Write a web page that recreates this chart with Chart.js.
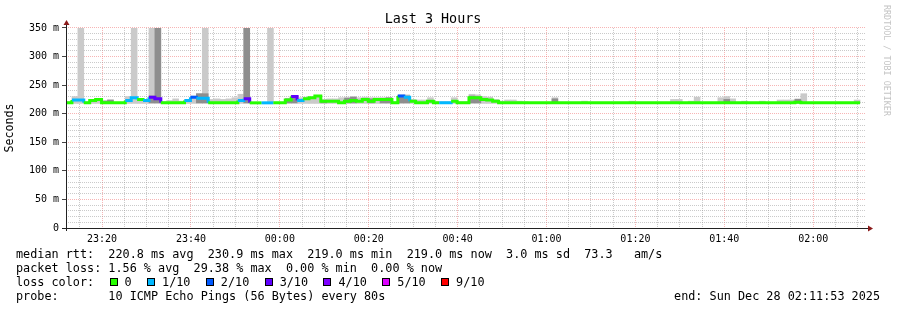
<!DOCTYPE html>
<html>
<head>
<meta charset="utf-8">
<script src="https://cdn.jsdelivr.net/npm/chart.js@4"></script>
<style>
  body { margin: 0; background: #fff; }
  #wrap { position: relative; width: 897px; height: 310px; font-family: 'DejaVu Sans Mono', monospace; color: #000; }
  #box { position: absolute; left: 0; top: 0; width: 897px; height: 310px; }
  .row { position: absolute; left: 16px; font-size: 11.8px; line-height: 14px; height: 14px; white-space: pre; }
  #lossRow { display: flex; align-items: center; }
  .sw { display: inline-block; width: 6px; height: 6px; border: 1px solid #000; margin-left: 15.4px; margin-right: 7px; }
  #end { left: auto; right: 17px; }
  #credit { position: absolute; left: 881px; top: 5px; width: 11px; font-size: 8.4px; line-height: 11px;
            writing-mode: vertical-rl; color: #c4c4c4; white-space: pre; }
</style>
</head>
<body>
<div id="wrap">
  <div id="box"><canvas id="chart"></canvas></div>
  <div class="row" style="top:247px">median rtt:  220.8 ms avg  230.9 ms max  219.0 ms min  219.0 ms now  3.0 ms sd  73.3   am/s</div>
  <div class="row" style="top:261px">packet loss: 1.56 % avg  29.38 % max  0.00 % min  0.00 % now</div>
  <div class="row" id="lossRow" style="top:275px"><span>loss color:</span></div>
  <div class="row" style="top:289px">probe:       10 ICMP Echo Pings (56 Bytes) every 80s</div>
  <div class="row" id="end" style="top:289px">end: Sun Dec 28 02:11:53 2025</div>
  <div id="credit">RRDTOOL / TOBI OETIKER</div>
</div>
<script>
// time window: 3 hours ending 02:11:53, one step every 80 s (minutes after midnight)
const endMinute = 2 * 60 + 11 + 53 / 60;
const spanMinutes = 180;
const stepMinutes = 80 / 60;
const startMinute = endMinute - spanMinutes;
const minRtt = 219.0;

// median rtt per step (ms)
const median = [
  219, 224, 224, 219, 223, 225, 219, 219, 219, 219,
  223, 228, 225, 223, 229, 226, 219, 219, 219, 219,
  223, 229, 227, 227, 219, 219, 219, 219, 219, 223,
  226, 219, 219, 219, 219, 219, 219, 224, 230, 223,
  226, 228, 231, 222, 222, 222, 219, 222, 223, 222,
  225, 222, 225, 225, 225, 219, 231, 229, 222, 219,
  219, 222, 219, 219, 219, 222, 219, 219, 228, 228,
  225, 224, 222, 219, 219, 219, 219, 219, 219, 219,
  219, 219, 219, 219, 219, 219, 219, 219, 219, 219,
  219, 219, 219, 219, 219, 219, 219, 219, 219, 219,
  219, 219, 219, 219, 219, 219, 219, 219, 219, 219,
  219, 219, 219, 219, 219, 219, 219, 219, 219, 219,
  219, 219, 219, 220, 219, 219, 219, 219, 219, 219,
  219, 219, 219, 219, null
];

// lost pings out of 10 per step
const loss = [
  0, 1, 1, 0, 0, 0, 0, 0, 0, 0,
  1, 1, 0, 1, 3, 3, 0, 0, 0, 0,
  1, 2, 1, 1, 0, 0, 0, 0, 0, 1,
  3, 0, 0, 1, 1, 0, 0, 0, 3, 1,
  0, 0, 0, 0, 0, 0, 0, 0, 0, 0,
  0, 0, 0, 0, 0, 0, 2, 1, 0, 0,
  0, 0, 0, 1, 1, 0, 0, 0, 0, 0,
  0, 0, 0, 0, 0, 0, 0, 0, 0, 0,
  0, 0, 0, 0, 0, 0, 0, 0, 0, 0,
  0, 0, 0, 0, 0, 0, 0, 0, 0, 0,
  0, 0, 0, 0, 0, 0, 0, 0, 0, 0,
  0, 0, 0, 0, 0, 0, 0, 0, 0, 0,
  0, 0, 0, 0, 0, 0, 0, 0, 0, 0,
  0, 0, 0, 0, 0
];

// slowest ping per step (ms) - outer smoke
const smokeHi = [
  221, 230, 380, 221, 224, 226, 223, 224, 220, 220,
  230, 380, 226, 225, 380, 380, 221, 223, 226, 222,
  225, 231, 235, 380, 225, 226, 225, 226, 228, 234,
  380, 220, 220, 220, 380, 220, 220, 227, 232, 228,
  229, 229, 232, 224, 226, 226, 228, 229, 230, 228,
  229, 228, 228, 228, 228, 221, 233, 233, 225, 224,
  224, 228, 221, 221, 221, 228, 221, 221, 234, 233,
  230, 229, 225, 222, 224, 224, 222, 221, 220, 220,
  220, 220, 228, 220, 220, 220, 220, 222, 220, 220,
  220, 220, 220, 220, 220, 222, 220, 220, 220, 220,
  220, 220, 225, 225, 220, 222, 229, 220, 220, 220,
  228, 230, 226, 220, 222, 220, 220, 222, 220, 220,
  224, 224, 224, 226, 235, 220, 220, 220, 220, 220,
  220, 220, 220, 224, null
];

// several slow pings per step (ms) - inner, darker smoke
const smokeDark = [
  null, null, null, null, null, null, 222, 224, null, null,
  null, null, null, null, 231, 380, null, null, null, null,
  null, null, 235, 235, null, null, null, null, null, null,
  380, null, null, null, null, null, null, 226, 232, null,
  null, null, null, 224, null, null, null, 227, 229, null,
  null, 226, null, 227, 228, null, 232, 231, null, null,
  null, null, null, null, null, null, null, null, 231, 230,
  null, null, null, null, null, null, null, null, null, null,
  null, null, 226, null, null, null, null, null, null, null,
  null, null, null, null, null, null, null, null, null, null,
  null, null, null, null, null, null, null, null, null, null,
  null, 225, null, null, null, null, null, null, null, null,
  null, null, null, 225, null, null, null, null, null, null,
  null, null, null, null, null
];

const lossLevels = [0, 1, 2, 3, 4, 5, 9];
const lossLabels = ['0', '1/10', '2/10', '3/10', '4/10', '5/10', '9/10'];
const lossColors = ['#26ff00', '#00b8ff', '#0059ff', '#5e00ff', '#7e00ff', '#dd00ff', '#ff0000'];

const majorGrid = 'rgba(240, 120, 120, 0.55)';
const minorGrid = 'rgba(150, 150, 150, 0.5)';

function lossColor(l) {
  let c = lossColors[0];
  lossLevels.forEach((lv, k) => { if (l >= lv) c = lossColors[k]; });
  return c;
}
function stepStart(i) { return startMinute + i * stepMinutes; }
function stepMid(i) { return stepStart(i) + stepMinutes / 2; }
function clock(m) {
  const t = ((Math.round(m) % 1440) + 1440) % 1440;
  return String(Math.floor(t / 60)).padStart(2, '0') + ':' + String(t % 60).padStart(2, '0');
}

// legend for loss colours
const lossRow = document.getElementById('lossRow');
lossLabels.forEach((lab, k) => {
  const sw = document.createElement('span');
  sw.className = 'sw';
  sw.style.background = lossColors[k];
  lossRow.appendChild(sw);
  const t = document.createElement('span');
  t.textContent = lab;
  lossRow.appendChild(t);
});

// median line as steps, coloured by loss
const lineData = [];
median.forEach((v, i) => {
  lineData.push({ x: stepStart(i), y: v, loss: loss[i] });
  if (v !== null && (i === median.length - 1 || median[i + 1] === null)) {
    lineData.push({ x: stepStart(i + 1), y: v, loss: loss[i] });
  }
});

const lightBars = smokeHi.map((h, i) => h === null ? null : { x: stepMid(i), y: [minRtt - 1, h] }).filter(d => d);
const darkBars = smokeDark.map((h, i) => h === null ? null : { x: stepMid(i), y: [minRtt, h] }).filter(d => d);

const xTicks = [];
for (let m = Math.ceil(startMinute / 5) * 5; m <= endMinute; m += 5) xTicks.push(m);
const yTicks = [];
for (let v = 0; v <= 350; v += 10) yTicks.push(v);

const axisArrows = {
  id: 'axisArrows',
  afterDraw(chart) {
    const { ctx, chartArea: a } = chart;
    ctx.save();
    ctx.strokeStyle = '#222';
    ctx.lineWidth = 1;
    ctx.beginPath();
    ctx.moveTo(a.left + 0.5, a.bottom + 3);
    ctx.lineTo(a.left + 0.5, a.top - 4);
    ctx.moveTo(a.left - 4, a.bottom + 0.5);
    ctx.lineTo(a.right + 2, a.bottom + 0.5);
    ctx.stroke();
    ctx.fillStyle = '#8b1a1a';
    ctx.beginPath();
    ctx.moveTo(a.left + 0.5, a.top - 8);
    ctx.lineTo(a.left - 2.5, a.top - 3);
    ctx.lineTo(a.left + 3.5, a.top - 3);
    ctx.fill();
    ctx.beginPath();
    ctx.moveTo(a.right + 7, a.bottom + 0.5);
    ctx.lineTo(a.right + 2, a.bottom - 2.5);
    ctx.lineTo(a.right + 2, a.bottom + 3.5);
    ctx.fill();
    ctx.restore();
  }
};

Chart.defaults.font.family = "'DejaVu Sans Mono', monospace";
Chart.defaults.color = '#000';

new Chart(document.getElementById('chart'), {
  type: 'line',
  data: {
    datasets: [
      {
        type: 'line',
        data: lineData,
        order: 0,
        borderColor: lossColors[0],
        borderWidth: 3,
        borderCapStyle: 'butt',
        borderJoinStyle: 'miter',
        stepped: 'before',
        pointRadius: 0,
        spanGaps: false,
        segment: { borderColor: c => lossColor(lineData[c.p0DataIndex].loss) }
      },
      {
        type: 'bar',
        data: darkBars,
        order: 1,
        backgroundColor: '#8e8e8e',
        borderWidth: 0,
        grouped: false,
        barPercentage: 1,
        categoryPercentage: 1
      },
      {
        type: 'bar',
        data: lightBars,
        order: 2,
        backgroundColor: '#cacaca',
        borderWidth: 0,
        grouped: false,
        barPercentage: 1,
        categoryPercentage: 1
      }
    ]
  },
  options: {
    responsive: true,
    maintainAspectRatio: false,
    animation: false,
    events: [],
    layout: { padding: { left: 0, right: 31, top: 0, bottom: 62 } },
    scales: {
      x: {
        type: 'linear',
        min: startMinute,
        max: endMinute,
        offset: false,
        afterBuildTicks: s => { s.ticks = xTicks.map(v => ({ value: v })); },
        afterFit: s => { s.height = 20; },
        ticks: {
          autoSkip: false,
          maxRotation: 0,
          padding: 1,
          font: { size: 10 },
          callback: v => (Math.round(v) % 20 === 0 ? clock(v) : '')
        },
        grid: {
          offset: false,
          lineWidth: 1,
          color: c => (c.tick && Math.round(c.tick.value) % 20 === 0 ? majorGrid : minorGrid),
          tickLength: 4,
          tickColor: 'rgba(0,0,0,0)'
        },
        border: { display: false, dash: [1, 1] }
      },
      y: {
        min: 0,
        max: 350,
        afterBuildTicks: s => { s.ticks = yTicks.map(v => ({ value: v })); },
        afterFit: s => { s.width = 66; },
        ticks: {
          autoSkip: false,
          padding: 3,
          font: { size: 10 },
          callback: v => (v % 50 === 0 ? (v === 0 ? '0' : v + ' m') : '')
        },
        grid: {
          lineWidth: 1,
          color: c => (c.tick && c.tick.value % 50 === 0 ? majorGrid : minorGrid),
          tickLength: 4,
          tickColor: c => (c.tick && c.tick.value % 50 === 0 ? '#444' : 'rgba(0,0,0,0)')
        },
        border: { display: false, dash: [1, 1] },
        title: {
          display: true,
          text: 'Seconds',
          font: { size: 11.66 },
          padding: { top: 3, bottom: 0 }
        }
      }
    },
    plugins: {
      legend: { display: false },
      tooltip: { enabled: false },
      title: {
        display: true,
        text: 'Last 3 Hours',
        color: '#000',
        font: { size: 13.4, weight: 'normal' },
        padding: { top: 11, bottom: 0.9 }
      }
    }
  },
  plugins: [axisArrows]
});
</script>
</body>
</html>
